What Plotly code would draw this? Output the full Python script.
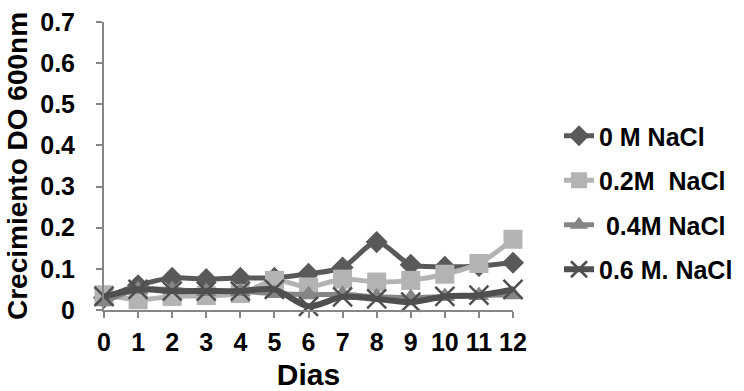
import plotly.graph_objects as go

dias = list(range(13))
tick_labels = [str(d) for d in dias]
names = ["0 M NaCl", "0.2M  NaCl", " 0.4M NaCl", "0.6 M. NaCl"]
v_0M = [0.030, 0.060, 0.078, 0.075, 0.078, 0.078, 0.088, 0.103, 0.165, 0.110, 0.105, 0.107, 0.115]
v_02M = [0.037, 0.025, 0.033, 0.035, 0.040, 0.072, 0.056, 0.075, 0.068, 0.072, 0.087, 0.113, 0.172]
v_04M = [0.020, 0.050, 0.050, 0.045, 0.045, 0.040, 0.037, 0.038, 0.032, 0.030, 0.033, 0.035, 0.037]
v_06M = [0.033, 0.050, 0.046, 0.046, 0.046, 0.050, 0.009, 0.032, 0.027, 0.019, 0.033, 0.036, 0.050]

series = [v_0M, v_02M, v_04M, v_06M]
colors = ["#595959", "#b3b3b3", "#858585", "#4f4f4f"]
symbols = ["diamond", "square", "triangle-up", "x-thin"]
sizes = [17, 19, 18, 19]
widths = [5, 5, 5, 6]

FONT = "Liberation Sans, Arial, sans-serif"

fig = go.Figure()
for i in range(4):
    marker = dict(symbol=symbols[i], size=sizes[i], color=colors[i])
    if symbols[i] == "x-thin":
        marker["line"] = dict(width=2.5, color=colors[i])
    else:
        marker["line"] = dict(width=0)
    fig.add_trace(go.Scatter(
        x=dias, y=series[i], name=names[i], mode="lines+markers",
        line=dict(color=colors[i], width=widths[i], shape="spline", smoothing=0.8),
        marker=marker, cliponaxis=False, legendgroup=f"g{i}",
    ))

fig.update_layout(
    width=744, height=391,
    margin=dict(l=104, r=231, t=22, b=81),
    paper_bgcolor="white", plot_bgcolor="white",
    font=dict(family=FONT, size=25, color="black", weight="bold"),
    showlegend=True,
    legend=dict(
        xref="container", yref="container",
        x=559 / 744, xanchor="left",
        y=1 - 113 / 391, yanchor="top",
        font=dict(family=FONT, size=25, color="black", weight="bold"),
        tracegroupgap=9, bgcolor="rgba(0,0,0,0)",
        itemwidth=30,
    ),
    xaxis=dict(
        range=[0, 12], tickmode="array", tickvals=dias, ticktext=tick_labels,
        showline=True, linecolor="#868686", linewidth=2,
        ticks="outside", ticklen=6, tickcolor="#868686", tickwidth=2,
        showgrid=False, zeroline=False, ticklabelstandoff=3, automargin=False,
        title=dict(text="Dias", standoff=13),
    ),
    yaxis=dict(
        range=[0, 0.7], tick0=0, dtick=0.1,
        showline=True, linecolor="#868686", linewidth=2,
        ticks="outside", ticklen=6, tickcolor="#868686", tickwidth=2,
        showgrid=False, zeroline=False, ticklabelstandoff=16, automargin=False,
        title=dict(text="Crecimiento DO 600nm", standoff=4, font=dict(size=28)),
    ),
)

fig.write_html("out.html")
